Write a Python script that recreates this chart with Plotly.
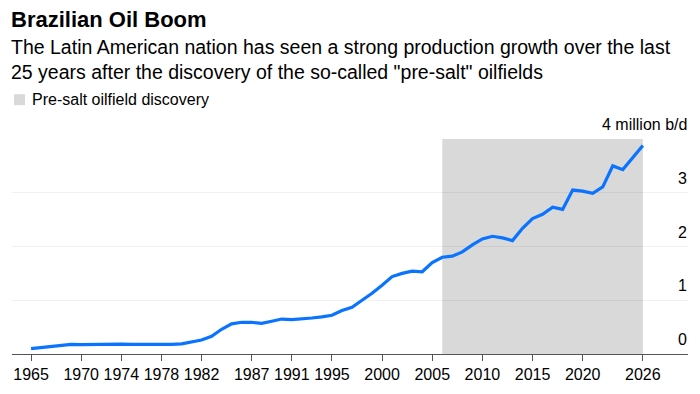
import plotly.graph_objects as go

years = list(range(1965, 2027))
production = [0.10, 0.12, 0.15, 0.17, 0.18, 0.175, 0.18, 0.18, 0.18, 0.185,
              0.18, 0.18, 0.175, 0.17, 0.18, 0.19, 0.22, 0.26, 0.33, 0.46,
              0.56, 0.59, 0.59, 0.57, 0.61, 0.65, 0.64, 0.65, 0.67, 0.69,
              0.72, 0.81, 0.87, 1.00, 1.13, 1.28, 1.44, 1.50, 1.54, 1.53,
              1.70, 1.80, 1.82, 1.90, 2.03, 2.14, 2.19, 2.16, 2.11, 2.34,
              2.52, 2.60, 2.73, 2.69, 3.05, 3.03, 2.99, 3.11, 3.50, 3.43,
              3.65, 3.88]

x_tick_years = [1965, 1970, 1974, 1978, 1982, 1987, 1991, 1995, 2000, 2005,
                2010, 2015, 2020, 2026]
y_tick_vals = [0, 1, 2, 3, 4]
y_tick_text = ["0", "1", "2", "3", "4 million b/d"]

presalt_start = 2006
presalt_end = 2026

FONT = "Liberation Sans, Arial, Helvetica, sans-serif"

fig = go.Figure()
fig.add_trace(go.Scatter(
    x=years, y=production, mode="lines",
    line=dict(color="#0a74ff", width=3.2),
    hoverinfo="x+y", showlegend=False,
))

fig.add_shape(type="rect", xref="x", yref="y",
              x0=presalt_start, x1=presalt_end, y0=0, y1=max(y_tick_vals),
              fillcolor="#d9d9d9", line=dict(width=0), layer="below")

# y-axis labels sitting above their gridlines, right aligned
for v, t in zip(y_tick_vals, y_tick_text):
    fig.add_annotation(xref="paper", yref="y", x=1, y=v, text=t,
                       showarrow=False, xanchor="right", yanchor="bottom",
                       yshift=5, borderpad=0,
                       font=dict(family=FONT, size=16, color="#000"))

# legend swatch + text
fig.add_shape(type="rect", xref="paper", yref="paper",
              x0=2/676, x1=13/676, y0=(354-104)/216, y1=(354-93)/216,
              fillcolor="#d9d9d9", line=dict(width=0))
fig.add_annotation(xref="paper", yref="paper", x=19/676, y=(354-98.5)/216,
                   text="Pre-salt oilfield discovery", showarrow=False,
                   xanchor="left", yanchor="middle", borderpad=0,
                   font=dict(family=FONT, size=16, color="#000"))

# title & subtitle
fig.add_annotation(xref="paper", yref="paper", x=-2/676, y=(354-18)/216,
                   text="<b>Brazilian Oil Boom</b>", showarrow=False,
                   xanchor="left", yanchor="middle", borderpad=0,
                   font=dict(family=FONT, size=22, color="#000"))
fig.add_annotation(xref="paper", yref="paper", x=-2/676, y=(354-58)/216,
                   text=("The Latin American nation has seen a strong production growth over the last<br>"
                         "25 years after the discovery of the so-called \"pre-salt\" oilfields"),
                   showarrow=False, align="left", borderpad=0,
                   xanchor="left", yanchor="middle",
                   font=dict(family=FONT, size=19.5, color="#000"))

fig.update_layout(
    width=700, height=394,
    margin=dict(l=12, r=12, t=139, b=40, pad=0, autoexpand=False),
    paper_bgcolor="white", plot_bgcolor="white",
    font=dict(family=FONT, size=16, color="#000"),
    xaxis=dict(
        range=[1963.1, 2030.5], automargin=False,
        tickmode="array", tickvals=x_tick_years,
        ticktext=[str(y) for y in x_tick_years],
        showgrid=False, zeroline=False,
        showline=True, linecolor="#555", linewidth=1,
        ticks="outside", ticklen=6, tickcolor="#555", tickwidth=1,
        tickfont=dict(family=FONT, size=16, color="#000"),
        fixedrange=True,
    ),
    yaxis=dict(
        range=[0, 4], automargin=False,
        tickmode="array", tickvals=y_tick_vals,
        showticklabels=False,
        showgrid=True, gridcolor="rgba(0,0,0,0.055)", gridwidth=1,
        zeroline=False, showline=False, ticks="",
        fixedrange=True,
    ),
)

fig.write_html(
    "out.html",
    config={"displayModeBar": False},
    post_script="document.body.style.margin='0';document.body.style.padding='0';"
                "document.body.style.overflow='hidden';",
)
